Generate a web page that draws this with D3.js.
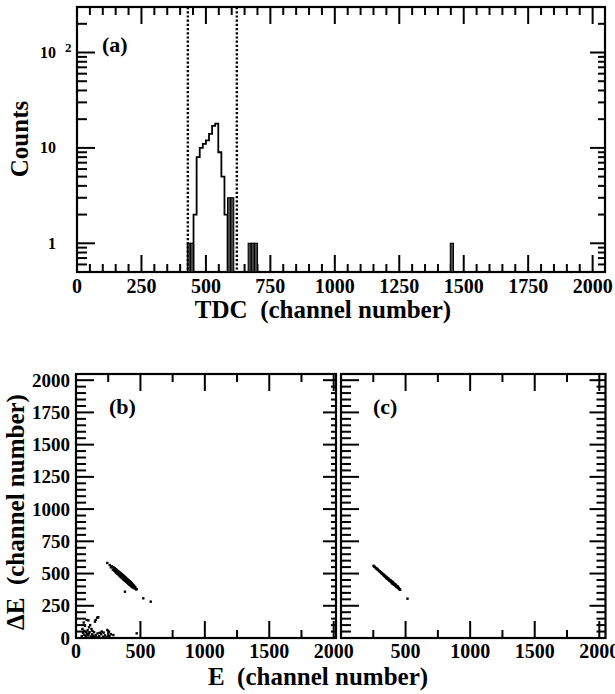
<!DOCTYPE html>
<html>
<head>
<meta charset="utf-8">
<script src="https://cdn.jsdelivr.net/npm/d3@7"></script>
<style>
  html, body { margin: 0; padding: 0; background: #fff; }
  svg { display: block; }
  text { font-family: "Liberation Serif", serif; font-weight: bold; fill: #000; }
</style>
</head>
<body>
<svg id="fig" width="615" height="694"></svg>
<script>
// ---- (a) TDC spectrum ----
const tdcBinWidth = 12;
const peakBinStarts = [452, 464, 476, 488, 500, 512, 524, 536, 548, 560, 572];
const peakCounts    = [2, 8, 10, 11, 12, 14, 17, 18, 9, 5, 2];
const solidBinStarts = [428, 440, 584, 596, 664, 676, 688, 1448];
const solidCounts    = [1, 1, 3, 3, 1, 1, 1, 1];
const gateChannels = [430, 620];
const tdcMajorTicks = [0, 250, 500, 750, 1000, 1250, 1500, 1750, 2000];
const countMajorTicks = [1, 10, 100];
const countMinorTicks = [0.5, 0.6, 0.7, 0.8, 0.9, 2, 3, 4, 5, 6, 7, 8, 9, 20, 30, 40, 50, 60, 70, 80, 90, 200];
const countTickBase = ["1", "10", "10"];
const countTickExp  = ["", "", "2"];

// ---- (b) E–ΔE, all events ----
const bandAllE  = [243, 262, 271, 279, 286, 291, 297, 302, 306, 310, 314, 318, 321, 325, 327, 331, 334, 336, 339, 342, 344, 347, 349, 352, 354, 356, 358, 361, 363, 365, 367, 369, 371, 373, 375, 377, 379, 381, 383, 385, 387, 389, 391, 393, 395, 397, 399, 401, 403, 405, 407, 409, 411, 413, 415, 417, 419, 421, 423, 425, 427, 429, 431, 433, 435, 437, 439, 441, 443, 446, 449, 452, 456, 460, 466, 471,
                   330, 345, 360, 372, 384, 396, 408, 418, 428, 438, 355, 365, 392, 402, 415, 425, 435, 445, 452, 378, 388, 366, 342, 320, 298];
const bandAllDE = [582, 566, 548, 556, 530, 549, 522, 540, 512, 533, 505, 527, 498, 520, 494, 515, 487, 510, 482, 506, 478, 501, 473, 497, 469, 493, 465, 489, 461, 485, 457, 482, 453, 478, 450, 474, 446, 471, 443, 468, 440, 464, 436, 460, 433, 456, 429, 453, 426, 449, 422, 446, 419, 442, 415, 439, 412, 435, 409, 431, 405, 427, 402, 423, 398, 419, 395, 414, 392, 410, 389, 403, 384, 394, 377, 380,
                   503, 490, 476, 466, 455, 444, 434, 425, 416, 407, 481, 472, 448, 439, 428, 419, 410, 401, 395, 460, 452, 471, 492, 512, 531];
const strayAllE  = [380, 522, 580];
const strayAllDE = [359, 308, 282];
const noiseE  = [83, 96, 153, 165, 173, 147, 101, 127, 243, 256, 168, 60, 70, 110, 90, 55, 65, 75, 85, 95, 105, 115, 125, 135, 145, 155, 180, 195, 210, 225, 240, 260, 290, 471, 50, 45, 120, 140, 200, 62, 80, 100, 130, 160, 185, 215, 270];
const noiseDE = [140, 137, 140, 158, 161, 127, 83, 55, 62, 49, 36, 120, 95, 100, 60, 40, 25, 15, 30, 20, 45, 12, 28, 18, 8, 22, 14, 30, 10, 20, 8, 15, 23, 36, 70, 15, 70, 45, 50, 55, 48, 35, 8, 5, 40, 42, 30];

// ---- (c) E–ΔE, TDC-gated events ----
const bandGateE  = [252, 258, 264, 270, 276, 282, 288, 294, 300, 305, 310, 314, 318, 322, 326, 330, 333, 336, 339, 342, 345, 348, 351, 354, 357, 360, 363, 366, 369, 372, 375, 378, 381, 384, 387, 390, 393, 396, 399, 402, 405, 408, 411, 414, 417, 420, 423, 426, 429, 432, 435, 438, 441, 444, 447, 450, 454, 458, 400, 410, 420, 430, 440, 385, 395, 375, 365, 355];
const bandGateDE = [560, 553, 550, 541, 540, 532, 529, 520, 518, 512, 509, 502, 501, 496, 494, 487, 490, 481, 483, 476, 478, 470, 473, 465, 468, 460, 463, 454, 458, 449, 453, 444, 447, 438, 442, 433, 437, 428, 432, 423, 427, 417, 422, 412, 416, 408, 411, 403, 405, 397, 400, 392, 395, 387, 388, 380, 378, 374, 436, 413, 416, 396, 398, 445, 424, 446, 460, 462];
const strayGateE  = [515];
const strayGateDE = [305];

const eMajorTicks = [0, 500, 1000, 1500, 2000];
const eMinorTicks = [250, 750, 1250, 1750];
const deMajorTicks = [0, 250, 500, 750, 1000, 1250, 1500, 1750, 2000];

const svg = d3.select("#fig");
svg.append("rect").attr("width", 615).attr("height", 694).attr("fill", "#fff");

function steps(a, b, s) { const r = []; for (let v = a; v <= b + 1e-9; v += s) r.push(v); return r; }

// scales
const xA = d3.scaleLinear().domain([0, 2048]).range([77, 605]);
const yA = d3.scaleLog().domain([0.5, 300]).range([272, 7]);
const yDE = d3.scaleLinear().domain([0, 2048]).range([638, 374]);
const xB = d3.scaleLinear().domain([0, 2018]).range([76, 336]);
const xC = d3.scaleLinear().domain([0, 2048]).range([341, 605.5]);
const tdcMinor = steps(0, 2048, 50).filter(v => v % 250 !== 0);
const deMinor = steps(0, 2048, 50).filter(v => v % 250 !== 0);

// panel group: inward ticks first, frame on top
function panel(x, y, sets) {
  const g = svg.append("g");
  const [x0, x1] = x.range();
  const [y0, y1] = y.range();
  sets.forEach(s => {
    const tg = g.append("g");
    if (s.side === "bottom" || s.side === "top") {
      const yEdge = s.side === "bottom" ? y0 : y1;
      tg.selectAll("line").data(s.values).join("line")
        .attr("x1", v => x(v)).attr("x2", v => x(v))
        .attr("y1", yEdge).attr("y2", s.side === "bottom" ? yEdge - s.len : yEdge + s.len)
        .attr("stroke", "#000").attr("stroke-width", 2);
    } else {
      const xEdge = s.side === "left" ? x0 : x1;
      tg.selectAll("line").data(s.values).join("line")
        .attr("y1", v => y(v)).attr("y2", v => y(v))
        .attr("x1", xEdge).attr("x2", s.side === "left" ? xEdge + s.len : xEdge - s.len)
        .attr("stroke", "#000").attr("stroke-width", 2);
    }
  });
  g.append("rect").attr("x", x0).attr("y", y1).attr("width", x1 - x0).attr("height", y0 - y1)
    .attr("fill", "none").attr("stroke", "#000").attr("stroke-width", 2.2);
  return g;
}

// =================== Panel (a) ===================
const gA = panel(xA, yA, [
  { side: "bottom", values: tdcMajorTicks, len: 17 },
  { side: "bottom", values: tdcMinor, len: 8 },
  { side: "top", values: tdcMajorTicks, len: 17 },
  { side: "top", values: tdcMinor, len: 8 },
  { side: "left", values: countMajorTicks, len: 18 },
  { side: "left", values: countMinorTicks, len: 10 },
  { side: "right", values: countMajorTicks, len: 15 },
  { side: "right", values: countMinorTicks, len: 7 }
]);

const peak = peakBinStarts.map((s, i) => ({ x0: s, x1: s + tdcBinWidth, c: peakCounts[i] }));
const peakPath = d3.path();
peakPath.moveTo(xA(peak[0].x0), yA(0.5));
peak.forEach(b => { peakPath.lineTo(xA(b.x0), yA(b.c)); peakPath.lineTo(xA(b.x1), yA(b.c)); });
peakPath.lineTo(xA(peak[peak.length - 1].x1), yA(0.5));
gA.append("path").attr("d", peakPath.toString()).attr("fill", "none").attr("stroke", "#000").attr("stroke-width", 1.8);

gA.append("g").selectAll("rect").data(solidBinStarts.map((s, i) => ({ x0: s, c: solidCounts[i] })))
  .join("rect")
  .attr("x", b => xA(b.x0)).attr("width", b => xA(b.x0 + tdcBinWidth) - xA(b.x0))
  .attr("y", b => yA(b.c)).attr("height", b => yA(0.5) - yA(b.c))
  .attr("fill", "#4a4a4a").attr("stroke", "#000").attr("stroke-width", 1.1);

gA.append("g").selectAll("line").data(gateChannels).join("line")
  .attr("x1", v => xA(v)).attr("x2", v => xA(v)).attr("y1", yA.range()[1]).attr("y2", yA.range()[0])
  .attr("stroke", "#000").attr("stroke-width", 2.4).attr("stroke-dasharray", "2.2,2");

gA.append("g").selectAll("text").data(tdcMajorTicks).join("text")
  .attr("x", v => xA(v)).attr("y", 293).attr("text-anchor", "middle").attr("font-size", 20).text(v => String(v));
countMajorTicks.forEach((v, i) => {
  gA.append("text").attr("x", 56).attr("y", yA(v) + 5.5)
    .attr("text-anchor", "end").attr("font-size", 16).text(countTickBase[i]);
  if (countTickExp[i]) {
    gA.append("text").attr("x", 65).attr("y", yA(v) - 1).attr("font-size", 13).text(countTickExp[i]);
  }
});
gA.append("text").attr("x", 102).attr("y", 52).attr("font-size", 22).text("(a)");
gA.append("text").attr("x", 323).attr("y", 318).attr("text-anchor", "middle").attr("font-size", 25).text("TDC\u00A0 (channel number)");
gA.append("text").attr("transform", "translate(28,139) rotate(-90)").attr("text-anchor", "middle").attr("font-size", 25).text("Counts");

// =================== Panels (b), (c) ===================
function dots(g, x, es, des) {
  g.append("g").selectAll("rect").data(es.map((e, i) => [e, des[i]])).join("rect")
    .attr("x", p => x(p[0]) - 1.2).attr("y", p => yDE(p[1]) - 1.2)
    .attr("width", 2.4).attr("height", 2.4).attr("fill", "#000");
}

const gB = panel(xB, yDE, [
  { side: "bottom", values: eMajorTicks, len: 17 },
  { side: "bottom", values: eMinorTicks, len: 8 },
  { side: "top", values: eMajorTicks, len: 17 },
  { side: "top", values: eMinorTicks, len: 8 },
  { side: "left", values: deMajorTicks, len: 18 },
  { side: "left", values: deMinor, len: 10 },
  { side: "right", values: deMajorTicks, len: 13 },
  { side: "right", values: deMinor, len: 5 }
]);
dots(gB, xB, bandAllE, bandAllDE);
dots(gB, xB, strayAllE, strayAllDE);
dots(gB, xB, noiseE, noiseDE);
gB.append("g").selectAll("text").data(eMajorTicks).join("text")
  .attr("x", v => xB(v)).attr("y", 658).attr("text-anchor", "middle").attr("font-size", 20).text(v => String(v));
gB.append("g").selectAll("text").data(deMajorTicks).join("text")
  .attr("x", 70).attr("y", v => yDE(v) + 6.5).attr("text-anchor", "end").attr("font-size", 19).text(v => String(v));
gB.append("text").attr("x", 109).attr("y", 414).attr("font-size", 22).text("(b)");

const gC = panel(xC, yDE, [
  { side: "bottom", values: eMajorTicks, len: 17 },
  { side: "bottom", values: eMinorTicks, len: 8 },
  { side: "top", values: eMajorTicks, len: 17 },
  { side: "top", values: eMinorTicks, len: 8 },
  { side: "left", values: deMajorTicks, len: 18 },
  { side: "left", values: deMinor, len: 10 },
  { side: "right", values: deMajorTicks, len: 16 },
  { side: "right", values: deMinor, len: 9 }
]);
dots(gC, xC, bandGateE, bandGateDE);
dots(gC, xC, strayGateE, strayGateDE);
gC.append("g").selectAll("text").data(eMajorTicks.filter(v => v > 0)).join("text")
  .attr("x", v => xC(v)).attr("y", 658).attr("text-anchor", "middle").attr("font-size", 20).text(v => String(v));
gC.append("text").attr("x", 373).attr("y", 414).attr("font-size", 22).text("(c)");

svg.append("text").attr("x", 318).attr("y", 685).attr("text-anchor", "middle").attr("font-size", 25).text("E\u00A0 (channel number)");
svg.append("text").attr("transform", "translate(24,512) rotate(-90)").attr("text-anchor", "middle").attr("font-size", 25).text("ΔE\u00A0 (channel number)");
</script>
</body>
</html>
